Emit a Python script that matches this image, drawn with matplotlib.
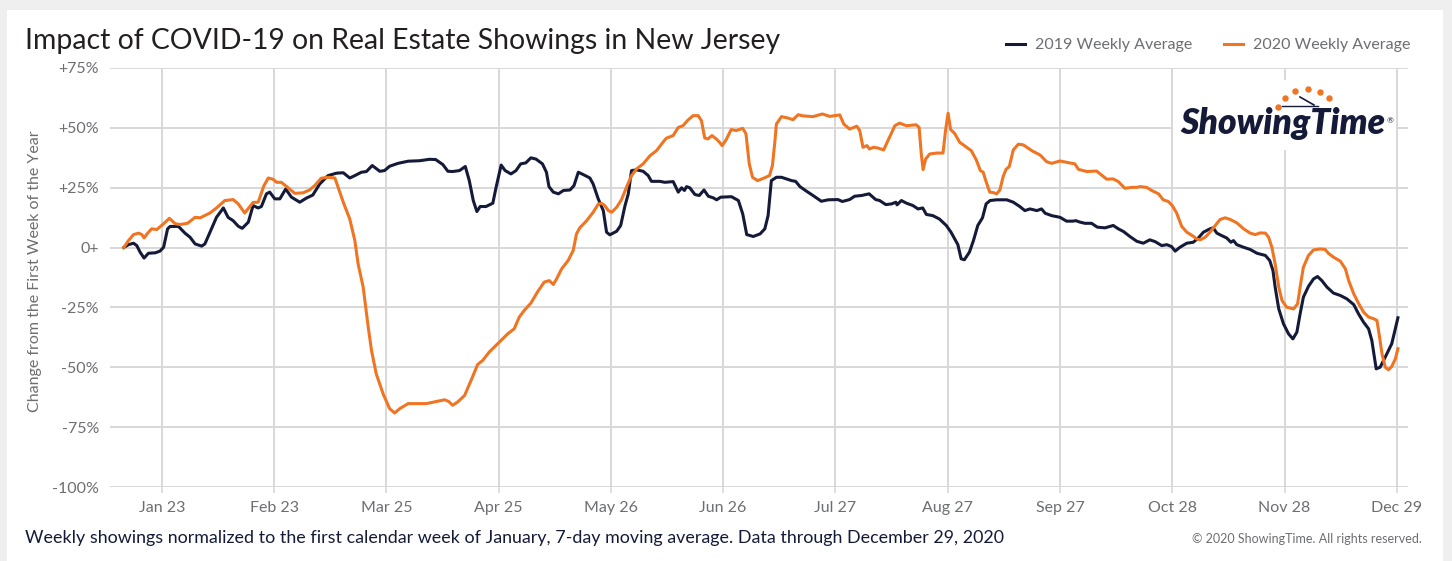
"""Impact of COVID-19 on real estate showings in New Jersey (2019 vs 2020)."""

import matplotlib

matplotlib.use("Agg")

import matplotlib.pyplot as plt
from matplotlib.lines import Line2D
from matplotlib.patches import Rectangle

# day of year (Jan 1 = 0) and % change from the first week of the year
days_2019 = [
    11.5, 12.8, 14.2, 15.1, 16.0, 17.1, 18.3, 20.2, 21.5, 22.5, 23.6, 24.3, 26.6,
    28.4, 29.8, 31.2, 33.0, 33.9, 35.3, 37.1, 39.0, 40.3, 41.7, 43.1, 44.2, 45.9,
    47.2, 48.6, 49.5, 50.9, 51.8, 53.2, 54.6, 56.2, 57.8, 60.1, 61.9, 63.7, 65.6,
    67.9, 70.2, 72.1, 73.9, 75.3, 77.1, 78.5, 80.1, 82.2, 83.5, 84.9, 87.2, 90.0,
    93.2, 95.9, 97.6, 99.6, 101.0, 102.3, 104.2, 105.8, 106.9, 108.0, 109.0, 109.9,
    111.5, 113.4, 114.3, 115.7, 116.8, 118.4, 119.8, 121.1, 122.5, 123.9, 125.3,
    127.1, 128.2, 128.9, 130.1, 131.5, 132.9, 134.7, 135.8, 137.0, 138.4, 140.2,
    141.1, 142.5, 143.9, 144.8, 145.7, 147.6, 148.7, 149.9, 150.8, 151.7, 153.1,
    154.9, 156.3, 157.2, 159.5, 160.9, 163.2, 164.6, 165.5, 166.3, 166.9, 167.8,
    169.2, 170.4, 171.7, 172.9, 174.3, 175.2, 176.3, 179.3, 181.2, 182.4, 183.5,
    185.3, 187.2, 188.5, 189.4, 190.3, 191.7, 193.1, 194.5, 195.9, 197.0, 198.2,
    200.0, 201.8, 204.1, 206.0, 208.7, 209.9, 211.9, 213.3, 215.2, 217.3, 219.1,
    220.2, 221.9, 223.5, 224.7, 225.0, 226.2, 227.6, 229.4, 230.8, 232.1, 233.1,
    234.9, 236.7, 238.6, 239.9, 241.8, 242.7, 243.6, 245.0, 246.1, 247.3, 248.6,
    249.6, 250.7, 252.5, 255.3, 257.1, 258.9, 260.3, 261.7, 263.6, 264.9, 265.9,
    267.7, 270.0, 271.8, 273.5, 274.4, 275.5, 276.9, 278.7, 280.3, 282.4, 284.7,
    286.1, 287.5, 289.3, 291.2, 293.0, 294.8, 296.2, 298.1, 299.5, 300.8, 301.8,
    303.1, 305.0, 306.8, 308.2, 309.6, 311.4, 312.3, 313.3, 314.6, 316.0, 317.2,
    317.9, 318.8, 320.7, 322.5, 324.4, 326.7, 327.9, 328.8, 329.4, 330.4, 331.7,
    333.1, 334.3, 335.4, 336.3, 337.2, 338.6, 340.0, 341.1, 342.3, 343.7, 345.5,
    347.4, 349.2, 351.1, 352.4, 353.8, 355.2, 356.1, 356.8, 357.3, 358.4, 359.8,
    361.6, 363.3,
]
pct_2019 = [
    0.0, 1.2, 1.8, 0.8, -1.9, -4.4, -2.4, -2.2, -1.5, 0.1, 7.8, 8.8, 8.8,
    6.0, 4.3, 1.5, 0.6, 1.5, 6.4, 12.6, 16.5, 12.6, 11.2, 8.9, 8.0, 10.6,
    17.5, 16.5, 17.1, 22.4, 23.1, 20.3, 20.3, 24.4, 21.0, 18.9, 20.6, 21.9, 26.5,
    30.0, 31.0, 31.2, 29.0, 30.0, 31.4, 31.7, 34.2, 31.8, 32.1, 33.9, 35.1, 36.0,
    36.2, 36.8, 36.7, 34.6, 31.8, 31.7, 32.1, 33.8, 27.9, 19.6, 15.0, 17.1,
    17.1, 18.5, 25.1, 34.4, 32.1, 30.7, 32.1, 34.9, 35.3, 37.4, 36.9,
    34.9, 31.4, 25.4, 23.1, 22.4, 23.8, 24.0, 25.8, 31.4, 30.4, 29.0,
    26.5, 20.3, 15.4, 6.4, 5.3, 6.8, 9.2, 17.5, 22.4, 32.1, 32.4,
    31.8, 30.0, 27.6, 27.6, 27.2, 27.5, 23.1, 24.9, 23.8, 25.4, 24.9,
    22.1, 21.7, 24.0, 21.4, 20.7, 19.9, 21.0, 21.2, 19.6, 14.0, 5.4,
    4.6, 5.7, 7.8, 13.3, 27.9, 29.3, 29.3, 28.6, 27.9, 27.6, 25.4,
    23.5, 21.7, 19.3, 19.9, 20.0, 19.2, 20.0, 21.4, 21.7, 22.4, 20.0,
    19.6, 17.9, 18.2, 18.9, 17.8, 19.6, 18.5, 17.5, 16.1, 16.5, 13.8,
    13.3, 11.9, 9.2, 6.4, 1.2, -4.7, -5.1, -1.9, 2.9, 9.2, 12.4,
    18.2, 19.6, 19.9, 19.9, 18.9, 17.1, 15.4, 16.1, 15.4, 16.1, 14.3,
    13.3, 12.6, 11.0, 11.0, 11.2, 10.6, 10.1, 10.1, 8.5, 8.2, 9.2,
    7.8, 6.7, 4.6, 2.6, 1.8, 3.2, 2.5, 0.8, 1.2, 0.4, -1.5,
    0.1, 1.8, 2.2, 4.0, 6.4, 7.8, 8.2, 6.0, 5.0, 4.0, 2.2,
    2.9, 1.2, 0.1, -0.8, -2.4, -3.3, -5.4, -9.6, -16.5, -25.6, -31.8,
    -36.0, -38.1, -35.3, -27.6, -20.7, -16.2, -13.1, -12.1, -13.8, -16.5, -19.0,
    -20.0, -21.4, -23.8, -27.6, -31.1, -33.9, -38.8, -45.7, -50.6, -49.9, -45.7,
    -40.1, -29.3,
]

days_2020 = [
    11.5, 12.8, 14.2, 15.6, 16.5, 17.1, 18.1, 19.2, 20.6, 22.5, 24.1, 25.7, 27.0,
    29.1, 31.2, 32.6, 35.3, 37.1, 39.4, 41.7, 43.1, 44.9, 47.2, 48.6, 50.2, 51.4,
    52.7, 53.7, 55.0, 56.9, 58.7, 61.0, 62.8, 64.2, 66.0, 67.9, 69.8, 70.7, 72.1,
    73.9, 75.3, 76.2, 77.6, 79.0, 79.9, 81.2, 83.1, 84.9, 86.3, 87.7, 90.0, 95.0,
    97.8, 100.1, 101.2, 102.3, 103.7, 105.6, 107.4, 109.2, 110.6, 112.4, 115.2,
    117.5, 119.3, 120.7, 122.1, 123.9, 125.7, 127.6, 129.0, 130.1, 131.0, 132.4,
    134.2, 135.6, 136.5, 137.4, 139.3, 141.1, 142.5, 143.4, 144.3, 145.3, 146.2,
    147.6, 148.9, 150.3, 151.7, 153.1, 154.9, 156.8, 158.6, 160.0, 161.3, 163.2,
    164.6, 165.9, 167.3, 168.7, 170.1, 171.0, 171.9, 172.8, 173.9, 175.1, 176.0,
    176.7, 177.8, 179.2, 180.6, 182.4, 183.3, 184.2, 185.1, 186.5, 188.3, 189.8,
    190.6, 191.3, 191.7, 193.1, 194.9, 196.3, 197.7, 199.0, 201.8, 204.4, 206.4,
    209.2, 210.3, 211.9, 213.9, 214.7, 215.6, 216.7, 217.4, 218.5, 219.7, 221.3,
    222.5, 224.4, 225.7, 227.6, 230.3, 231.1, 231.7, 232.2, 232.9, 234.0, 235.9,
    237.7, 238.4, 239.1, 239.8, 240.9, 242.3, 244.2, 245.5, 246.9, 248.0, 248.8,
    249.5, 250.6, 251.6, 252.5, 253.4, 254.3, 255.1, 256.0, 257.1, 258.5, 259.9,
    262.2, 264.5, 266.3, 267.7, 270.0, 272.3, 274.1, 275.1, 277.4, 280.1, 282.9,
    284.7, 286.1, 287.9, 289.8, 291.2, 292.1, 293.9, 295.3, 297.2, 298.5, 299.9,
    301.0, 302.2, 303.6, 305.0, 306.8, 307.7, 308.7, 310.1, 311.4, 312.9, 314.2,
    315.6, 317.0, 318.8, 320.7, 322.5, 323.9, 325.3, 326.7, 327.6, 328.5, 329.4,
    330.4, 331.3, 332.6, 334.5, 335.6, 336.3, 337.2, 338.6, 340.0, 341.8, 343.2,
    344.1, 345.5, 347.4, 348.8, 349.7, 351.1, 352.4, 353.8, 355.2, 356.6, 357.5,
    358.1, 358.9, 359.8, 360.7, 361.6, 362.6, 363.3,
]
pct_2020 = [
    0.0, 2.9, 5.4, 6.0, 5.4, 4.0, 6.0, 7.8, 7.5, 9.9, 12.2, 9.9, 9.6,
    10.1, 12.6, 12.4, 14.4, 16.5, 19.6, 20.0, 18.2, 14.4, 18.8, 18.9, 25.8, 29.0,
    28.5, 27.2, 27.2, 24.9, 22.6, 22.8, 24.0, 25.8, 28.9, 29.3, 29.0, 25.1, 18.9,
    11.9, 2.9, -6.8, -16.5, -33.2, -42.9, -52.6, -61.0, -67.2, -69.0, -67.2, -65.1, -65.1,
    -64.2, -63.5, -64.2, -65.8, -64.4, -61.7, -55.4, -48.8, -47.1, -43.6, -39.4,
    -36.0, -33.9, -29.0, -26.2, -23.2, -18.6, -14.4, -13.8, -15.4, -13.1, -8.9,
    -5.4, -1.2, 5.7, 8.2, 11.2, 14.7, 18.1, 18.4, 17.5, 15.4, 14.7,
    16.8, 19.9, 25.1, 30.0, 32.8, 34.9, 38.3, 40.4, 43.2, 45.6, 46.7,
    50.1, 50.8, 53.2, 55.0, 55.0, 52.9, 45.7, 45.3, 46.7, 45.3, 43.9,
    42.5, 44.9, 49.2, 48.8, 49.7, 47.4, 34.9, 29.3, 27.9, 29.0, 30.0,
    34.2, 44.6, 51.5, 54.6, 54.0, 53.3, 55.4, 54.9, 54.6, 55.7, 54.7,
    55.3, 51.5, 49.4, 50.6, 48.8, 41.8, 42.5, 41.1, 41.8, 41.5, 40.7,
    44.6, 50.8, 51.9, 50.8, 51.2, 50.1, 39.0, 32.5, 36.9, 39.0, 39.4,
    39.4, 48.8, 56.0, 49.2, 47.6, 43.9, 41.8, 40.4, 36.5, 32.1, 31.4,
    27.9, 23.1, 22.9, 22.4, 24.0, 29.6, 32.6, 33.8, 40.7, 43.1, 42.8,
    40.4, 38.6, 35.8, 35.1, 36.1, 35.4, 34.9, 32.6, 31.7, 31.9, 28.5,
    28.6, 27.5, 24.7, 25.1, 25.1, 25.4, 25.1, 23.8, 22.4, 19.9, 19.2,
    17.5, 14.4, 8.8, 6.4, 4.7, 3.6, 3.2, 4.3, 6.4, 9.2, 11.7,
    12.4, 11.7, 10.3, 7.8, 6.0, 5.4, 6.1, 6.0, 4.3, 0.1, -6.8,
    -16.5, -22.1, -24.9, -25.6, -23.5, -16.5, -8.2, -3.3, -1.0, -0.6, -0.8,
    -2.4, -4.0, -5.7, -8.9, -13.8, -19.3, -23.2, -26.9, -29.0, -29.7, -30.4,
    -36.0, -44.3, -49.9, -51.0, -49.6, -46.4, -42.2,
]

tick_days = [22, 53, 84, 115, 146, 177, 208, 239, 270, 301, 332, 363]
tick_labels = ["Jan 23", "Feb 23", "Mar 25", "Apr 25", "May 26", "Jun 26",
               "Jul 27", "Aug 27", "Sep 27", "Oct 28", "Nov 28", "Dec 29"]
y_ticks = [75, 50, 25, 0, -25, -50, -75, -100]
y_labels = ["+75%", "+50%", "+25%", "0+", "-25%", "-50%", "-75%", "-100%"]

NAVY = "#141a38"
ORANGE = "#f07523"
GRAY_TEXT = "#6d6e71"
GRID = "#d8d8d8"
W, H = 1452, 561

plt.rcParams["font.family"] = ["Lato", "DejaVu Sans"]

fig = plt.figure(figsize=(W / 100, H / 100), dpi=100, facecolor="#efefef")
fig.add_artist(Rectangle((7 / W, 0), (1443 - 7) / W, 1 - 10 / H,
                         transform=fig.transFigure, facecolor="white",
                         edgecolor="none", zorder=0))

ax = fig.add_axes([110 / W, 1 - 487.3 / H, (1407.7 - 110) / W, (487.3 - 67.7) / H])
ax.set_facecolor("none")
ax.plot(days_2019, pct_2019, color=NAVY, lw=2.2, solid_joinstyle="round",
        label="2019 Weekly Average", zorder=4)
ax.plot(days_2020, pct_2020, color=ORANGE, lw=2.2, solid_joinstyle="round",
        label="2020 Weekly Average", zorder=4)

ax.set_xlim(7.7, 366.0)
ax.set_ylim(-100, 75)
ax.set_xticks(tick_days)
ax.set_xticklabels(tick_labels)
ax.set_yticks(y_ticks)
ax.set_yticklabels(y_labels)
ax.grid(True, color=GRID, lw=1.4)
ax.set_axisbelow(True)
for spine in ax.spines.values():
    spine.set_visible(False)
ax.tick_params(axis="x", length=4, width=1.2, color=GRID, pad=6,
               labelsize=11.5, labelcolor=GRAY_TEXT)
ax.tick_params(axis="y", length=0, pad=8, labelsize=11.5, labelcolor=GRAY_TEXT)

# white box behind the logo hides the grid there
fig.add_artist(Rectangle((1173 / W, 1 - 150 / H), (1396 - 1173) / W, 70 / H,
                         transform=fig.transFigure, facecolor="white",
                         edgecolor="none", zorder=2))
fig.text(1180 / W, 1 - 134 / H, "ShowingTime", color=NAVY, fontsize=25.5,
         fontweight="heavy", fontstyle="italic", ha="left", va="baseline", zorder=3)
fig.text(1387 / W, 1 - 123 / H, "®", color=NAVY, fontsize=6, ha="left",
         va="baseline", zorder=3)
dots_x = [1278, 1285, 1295, 1308, 1320, 1329]
dots_y = [107, 98, 91, 89, 92, 98]
for dx, dy in zip(dots_x, dots_y):
    fig.add_artist(Line2D([dx / W], [1 - dy / H], marker="o", markersize=3.6,
                          color=ORANGE, transform=fig.transFigure, zorder=3))
fig.add_artist(Line2D([1300 / W, 1314 / W], [1 - 97 / H, 1 - 105 / H],
                      color=NAVY, lw=1.2, transform=fig.transFigure, zorder=3))
fig.add_artist(Line2D([1282 / W, 1318 / W], [1 - 106 / H, 1 - 106 / H],
                      color=NAVY, lw=1.0, transform=fig.transFigure, zorder=3))

fig.text(25 / W, 1 - 48.5 / H, "Impact of COVID-19 on Real Estate Showings in New Jersey",
         fontsize=20.4, color="#231f20", ha="left", va="baseline")
fig.text(35 / W, 1 - 271 / H, "Change from the First Week of the Year", rotation=90,
         fontsize=11.5, color=GRAY_TEXT, ha="center", va="center")
ax.legend(loc="upper right", bbox_to_anchor=(1410 / W, 1 - 38 / H),
          bbox_transform=fig.transFigure, ncol=2, frameon=False, fontsize=11.5,
          labelcolor=GRAY_TEXT, handlelength=1.2, handletextpad=0.6,
          columnspacing=2.0, borderaxespad=0, borderpad=0)
fig.text(25 / W, 1 - 543 / H,
         "Weekly showings normalized to the first calendar week of January, "
         "7-day moving average. Data through December 29, 2020",
         fontsize=12.9, color=NAVY, ha="left", va="baseline")
fig.text(1422 / W, 1 - 543 / H, "© 2020 ShowingTime. All rights reserved.",
         fontsize=9.0, color=GRAY_TEXT, ha="right", va="baseline")

fig.savefig("out.png", dpi=100, facecolor=fig.get_facecolor())
